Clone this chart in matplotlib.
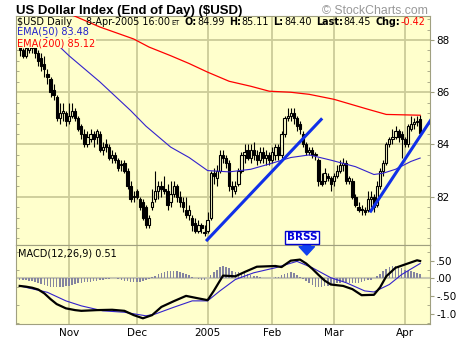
import numpy as np
import pandas as pd
import matplotlib
matplotlib.use("Agg")
import matplotlib.pyplot as plt
from matplotlib.ticker import FixedLocator

# trading days shown on the chart
dates = pd.bdate_range("2004-10-08", "2005-04-08")

opens = [87.8, 87.6, 87.4, 87.6, 87.9, 87.8, 87.5, 87.3, 87.1, 86.7,
         86.5, 86.1, 85.8, 85.0, 85.2, 85.2, 84.9, 85.1, 85.3, 85.0,
         84.7, 84.4, 84.0, 84.2, 84.4, 84.3, 84.4, 83.8, 84.0, 83.9,
         83.5, 83.6, 83.4, 83.2, 83.3, 83.0, 82.4, 82.0, 82.2, 81.9,
         81.8, 81.6, 80.9, 81.6, 81.9, 82.2, 82.4, 82.3, 82.2, 81.8,
         82.1, 82.4, 82.0, 81.8, 81.5, 81.3, 81.2, 81.0, 80.7, 80.9,
         80.6, 80.7, 81.2, 82.9, 82.7, 83.0, 83.6, 83.5, 83.3, 82.4,
         82.2, 82.5, 83.0, 83.6, 83.8, 83.5, 83.8, 83.6, 83.4, 83.7,
         83.5, 83.6, 83.4, 83.6, 83.9, 83.6, 84.4, 85.0, 85.1, 85.2,
         85.0, 84.8, 84.4, 84.0, 83.7, 83.8, 83.6, 83.4, 82.6, 82.6,
         82.8, 82.7, 82.6, 82.8, 83.0, 83.2, 83.3, 82.6, 82.6, 82.0,
         81.6, 81.5, 81.5, 81.5, 81.9, 82.0, 81.7, 82.4, 83.0, 83.3,
         84.0, 84.2, 84.3, 84.5, 84.4, 84.2, 84.0, 84.6, 84.8, 84.9,
         84.99]
highs = [87.9, 87.7, 87.9, 88.0, 88.0, 87.9, 87.6, 87.5, 87.4, 86.9,
         86.6, 86.3, 85.9, 85.6, 85.6, 85.3, 85.6, 85.6, 85.4, 85.1,
         84.8, 84.6, 84.5, 84.6, 84.5, 84.6, 84.5, 84.1, 84.2, 84.0,
         83.8, 83.7, 83.5, 83.4, 83.4, 83.1, 82.6, 82.2, 82.3, 82.0,
         81.9, 81.7, 81.3, 82.3, 83.0, 82.6, 82.6, 82.8, 82.5, 82.6,
         82.6, 82.5, 82.2, 82.0, 82.0, 81.7, 81.3, 81.2, 81.1, 81.0,
         80.9, 81.4, 83.0, 83.1, 83.2, 83.8, 83.8, 83.6, 83.4, 82.6,
         82.6, 83.1, 83.7, 84.0, 84.0, 84.0, 84.1, 83.8, 83.9, 83.9,
         83.8, 83.7, 83.9, 84.0, 84.0, 84.5, 85.1, 85.4, 85.4, 85.4,
         85.1, 84.9, 84.5, 84.1, 83.9, 83.9, 83.7, 83.5, 82.9, 83.1,
         82.9, 82.8, 82.9, 83.2, 83.4, 83.5, 83.4, 82.8, 82.7, 82.1,
         81.8, 81.7, 81.6, 82.2, 82.2, 82.1, 82.6, 83.1, 83.4, 84.1,
         84.3, 84.6, 84.7, 84.6, 84.5, 84.3, 84.8, 85.1, 85.0, 85.1,
         85.11]
lows = [87.4, 87.3, 87.3, 87.5, 87.5, 87.3, 87.0, 86.8, 86.6, 86.3,
        85.8, 85.7, 84.9, 84.8, 84.9, 84.7, 84.8, 85.0, 84.9, 84.5,
        84.2, 83.9, 83.9, 84.1, 83.9, 84.0, 83.7, 83.6, 83.7, 83.4,
        83.3, 83.3, 83.0, 83.0, 82.9, 82.3, 81.8, 81.8, 81.9, 81.5,
        81.1, 80.8, 80.8, 81.5, 81.8, 81.9, 82.0, 82.1, 81.5, 81.6,
        82.0, 81.8, 81.6, 81.4, 81.2, 81.1, 80.7, 80.6, 80.6, 80.6,
        80.5, 80.6, 81.1, 82.5, 82.4, 82.9, 83.3, 83.1, 82.2, 82.0,
        82.1, 82.4, 82.9, 83.3, 83.4, 83.3, 83.4, 83.2, 83.3, 83.3,
        83.2, 83.2, 83.3, 83.4, 83.4, 83.5, 84.3, 84.9, 84.9, 84.8,
        84.5, 84.4, 83.9, 83.6, 83.6, 83.5, 83.4, 82.4, 82.4, 82.5,
        82.6, 82.2, 82.4, 82.7, 82.9, 83.0, 82.5, 82.5, 81.9, 81.6,
        81.4, 81.3, 81.3, 81.4, 81.6, 81.4, 81.6, 82.3, 82.8, 83.2,
        83.9, 84.0, 84.2, 84.1, 83.5, 83.9, 83.9, 84.5, 84.6, 84.7,
        84.40]
closes = [87.6, 87.4, 87.7, 87.8, 87.7, 87.5, 87.2, 87.0, 86.9, 86.6,
          86.0, 85.9, 85.0, 85.2, 85.3, 84.9, 85.1, 85.3, 85.0, 84.6,
          84.4, 84.0, 84.3, 84.4, 84.2, 84.5, 83.8, 83.9, 83.9, 83.5,
          83.6, 83.4, 83.1, 83.2, 83.0, 82.4, 81.9, 82.0, 82.0, 81.6,
          81.2, 80.9, 81.2, 81.8, 82.2, 82.4, 82.3, 82.2, 81.7, 82.1,
          82.4, 82.0, 81.8, 81.6, 81.3, 81.5, 80.9, 80.7, 80.9, 80.8,
          80.6, 81.1, 82.9, 82.8, 83.0, 83.6, 83.5, 83.3, 82.4, 82.3,
          82.4, 83.0, 83.6, 83.7, 83.5, 83.8, 83.6, 83.4, 83.7, 83.5,
          83.6, 83.4, 83.7, 83.9, 83.6, 84.4, 85.0, 85.1, 85.2, 85.0,
          84.7, 84.6, 84.0, 83.7, 83.8, 83.6, 83.6, 82.6, 82.5, 82.9,
          82.7, 82.5, 82.8, 83.0, 83.2, 83.3, 82.6, 82.7, 82.0, 81.7,
          81.5, 81.5, 81.4, 81.9, 82.0, 81.6, 82.4, 83.0, 83.3, 84.0,
          84.2, 84.3, 84.5, 84.3, 84.2, 84.0, 84.7, 84.8, 84.85, 84.87,
          84.45]

# moving averages (bar index, value)
ema50_idx = [0, 6, 12, 16, 26, 36, 41, 45, 49, 55, 61, 68, 75, 81, 88, 94,
             101, 109, 115, 118, 122, 127, 130]
ema50_val = [88.6, 88.3, 87.85, 87.4, 86.4, 85.3, 84.7, 84.3, 83.9, 83.5, 83.0,
             82.95, 83.05, 83.25, 83.5, 83.6, 83.4, 83.15, 82.85, 82.9, 83.05,
             83.35, 83.48]
ema200_idx = [0, 17, 26, 37, 42, 49, 55, 61, 68, 75, 81, 88, 94, 102, 113, 119, 130]
ema200_val = [89.8, 88.96, 88.5, 88.04, 87.73, 87.4, 87.1, 86.77, 86.42, 86.23,
              86.04, 86.0, 85.92, 85.73, 85.35, 85.15, 85.12]

# hand drawn trend lines
trend1_x = [60.5, 98.2]
trend1_y = [80.3, 85.0]
trend2_x = [113.7, 133.8]
trend2_y = [81.4, 85.0]

# MACD(12,26,9)
macd_idx = [0, 2, 4, 6, 8, 10, 12, 15, 18, 20, 25, 30, 34, 37, 40, 43, 46, 50,
            54, 58, 61, 63, 66, 70, 73, 77, 83, 85, 88, 91, 93, 95, 97, 99, 101,
            105, 108, 111, 115, 117, 119, 122, 126, 129, 130]
macd_val = [-0.21, -0.23, -0.26, -0.31, -0.42, -0.58, -0.72, -0.84, -0.89, -0.91,
            -0.89, -0.88, -0.91, -1.03, -1.12, -1.03, -0.80, -0.64, -0.49, -0.56,
            -0.61, -0.35, 0.08, 0.06, 0.18, 0.33, 0.35, 0.32, 0.50, 0.53, 0.42,
            0.27, 0.10, -0.06, -0.17, -0.21, -0.30, -0.47, -0.46, -0.25, 0.06,
            0.30, 0.42, 0.51, 0.49]
signal_idx = [0, 9, 15, 20, 27, 34, 41, 44, 50, 56, 61, 65, 70, 76, 83, 90, 95,
              101, 106, 112, 115, 120, 124, 130]
signal_val = [-0.21, -0.39, -0.63, -0.77, -0.91, -0.95, -1.05, -1.0, -0.81, -0.63,
              -0.63, -0.35, -0.03, 0.16, 0.30, 0.48, 0.30, 0.02, -0.12, -0.35,
              -0.38, -0.17, 0.11, 0.42]
hist_val = [-0.03, -0.04, -0.05, -0.06, -0.08, -0.10, -0.13, -0.16, -0.19, -0.22,
            -0.24, -0.25, -0.25, -0.24, -0.23, -0.22, -0.20, -0.18, -0.16, -0.14,
            -0.12, -0.11, -0.10, -0.09, -0.08, -0.06, -0.05, -0.03, -0.02, -0.01,
            0.00, 0.00, -0.01, -0.03, -0.06, -0.08, -0.10, -0.10, -0.10, -0.09,
            -0.07, -0.04, -0.01, 0.03, 0.08, 0.12, 0.16, 0.18, 0.20, 0.21,
            0.21, 0.20, 0.18, 0.15, 0.12, 0.09, 0.05, 0.02, -0.02, -0.03,
            -0.03, 0.00, 0.10, 0.18, 0.25, 0.32, 0.35, 0.33, 0.28, 0.22,
            0.18, 0.17, 0.16, 0.14, 0.12, 0.10, 0.08, 0.06, 0.04, 0.02,
            0.01, 0.01, 0.02, 0.03, 0.05, 0.09, 0.13, 0.16, 0.17, 0.15,
            0.10, 0.04, -0.02, -0.08, -0.14, -0.19, -0.23, -0.25, -0.24, -0.22,
            -0.20, -0.18, -0.16, -0.14, -0.12, -0.10, -0.10, -0.12, -0.13, -0.13,
            -0.12, -0.10, -0.08, -0.05, -0.03, 0.00, 0.06, 0.13, 0.20, 0.27,
            0.32, 0.34, 0.34, 0.32, 0.28, 0.25, 0.22, 0.20, 0.18, 0.15,
            0.12]

month_labels = ["Nov", "Dec", "2005", "Feb", "Mar", "Apr"]
price_ticks = [82, 84, 86, 88]
macd_ticks = [0.5, 0.0, -0.5, -1.0]
macd_tick_labels = [".50", ".00", "-.50", "-1.0"]

W, H = 460, 340
BG = "#FFFFCC"
GRID = "#CCCC99"
EDGE = "#A0A080"

def fx(px):
    return px / W

def fy(py):
    return 1 - py / H

fig = plt.figure(figsize=(4.6, 3.4), dpi=100)
ax = fig.add_axes([fx(16), 95 / H, 414 / W, 229 / H])
axm = fig.add_axes([fx(16), 16 / H, 414 / W, 79 / H], sharex=ax)

x = np.arange(len(closes))
o = np.array(opens)
h = np.array(highs)
l = np.array(lows)
c = np.array(closes)

# month boundaries from the trading calendar
first_of_month = [i for i in range(1, len(dates)) if dates[i].month != dates[i - 1].month]

for a in (ax, axm):
    a.set_facecolor(BG)
    a.set_axisbelow(True)
    for s in a.spines.values():
        s.set_color(EDGE)
    a.set_xlim(-1.2, 133.2)
    a.xaxis.set_major_locator(FixedLocator(first_of_month))
    a.grid(True, axis="x", color=GRID, lw=1.3)

# candlesticks
up = c >= o
body_lo = np.minimum(o, c)
body_h = np.maximum(np.abs(c - o), 0.04)
ax.vlines(x, l, h, color="black", lw=0.8, zorder=3)
ax.bar(x[up], body_h[up], bottom=body_lo[up], width=0.75, facecolor=BG,
       edgecolor="black", lw=0.8, zorder=4)
ax.bar(x[~up], body_h[~up], bottom=body_lo[~up], width=0.75, facecolor="black",
       edgecolor="black", lw=0.8, zorder=4)

ax.plot(ema200_idx, ema200_val, color="#FF0000", lw=0.9, zorder=5)
ax.plot(ema50_idx, ema50_val, color="#3322CC", lw=0.8, zorder=5)
ax.plot(trend1_x, trend1_y, color="#1030E8", lw=2.2, zorder=6, solid_capstyle="butt")
ax.plot(trend2_x, trend2_y, color="#1030E8", lw=2.2, zorder=6, solid_capstyle="butt")

ax.set_ylim(80.15, 88.92)
ax.grid(True, axis="y", color=GRID, lw=1.3)
ax.yaxis.set_major_locator(FixedLocator(price_ticks))
ax.yaxis.set_minor_locator(FixedLocator(np.arange(80.4, 88.9, 0.4)))
ax.yaxis.tick_right()
ax.tick_params(axis="y", which="major", direction="out", length=3, color=EDGE,
               labelsize=7.5, pad=1.5, right=True, left=False)
ax.tick_params(axis="y", which="minor", direction="in", length=2.5, color=EDGE,
               left=True, right=True)
ax.tick_params(axis="x", length=0, labelbottom=False)

# MACD panel
axm.axhline(0, color="#C8C8B0", lw=1.5, zorder=1)
axm.bar(x, hist_val, width=0.5, color="#8484A0", zorder=2)
axm.plot(signal_idx, signal_val, color="#3322CC", lw=0.8, zorder=3)
axm.plot(macd_idx, macd_val, color="black", lw=1.6, zorder=4)
axm.set_ylim(-1.28, 0.94)
axm.yaxis.set_major_locator(FixedLocator(macd_ticks))
axm.yaxis.set_major_formatter(plt.FixedFormatter(macd_tick_labels))
axm.yaxis.set_minor_locator(FixedLocator(np.arange(-1.25, 0.94, 0.25)))
axm.yaxis.tick_right()
axm.tick_params(axis="y", which="major", direction="out", length=3, color=EDGE,
                labelsize=7.5, pad=1.5, right=True, left=False)
axm.tick_params(axis="y", which="minor", direction="in", length=2.5, color=EDGE,
                left=True, right=True)
axm.set_xticklabels(month_labels)
axm.tick_params(axis="x", length=0, labelsize=7.5, pad=3)

# BRSS marker
axm.annotate("", xy=(93.2, 0.58), xytext=(93.2, 1.0), annotation_clip=False,
             arrowprops=dict(arrowstyle="simple,head_length=0.6,head_width=1.1,tail_width=0.55",
                             fc="#1040F0", ec="#1040F0", mutation_scale=10))
fig.text(fx(302), fy(237.5), "BRSS", fontsize=7.5, fontweight="bold", color="#0000DD",
         ha="center", va="center", zorder=10,
         bbox=dict(boxstyle="square,pad=0.15", fc="white", ec="#0000CC", lw=1))

# titles and labels
fig.text(fx(16), fy(14), "US Dollar Index (End of Day) ($USD)", family="Liberation Sans",
         fontweight="bold", fontsize=9.5, va="baseline")
fig.text(fx(428), fy(14), "\u00a9 StockCharts.com", family="Liberation Sans",
         fontsize=8.8, color="#999999", ha="right", va="baseline")

hdr_y = fy(25)
fig.text(fx(17), hdr_y, "$USD Daily", fontsize=7, va="baseline", zorder=10,
         bbox=dict(boxstyle="square,pad=0.05", fc=BG, ec="none"))

# quote line: pieces placed one after the other
renderer = fig.canvas.get_renderer()
parts = [("8-Apr-2005 16:00", 6.9, "normal", "black", 1),
         ("ET", 4.8, "normal", "black", 5),
         ("O:", 6.9, "bold", "black", 0.5), ("84.99", 6.9, "normal", "black", 4.5),
         ("H:", 6.9, "bold", "black", 0.5), ("85.11", 6.9, "normal", "black", 4.5),
         ("L:", 6.9, "bold", "black", 0.5), ("84.40", 6.9, "normal", "black", 4.5),
         ("Last:", 6.9, "bold", "black", 0.5), ("84.45", 6.9, "normal", "black", 4.5),
         ("Chg:", 6.9, "bold", "black", 0.5), ("-0.42", 6.9, "normal", "#FF0000", 0)]
xpos = 86
for s, size, wt, col, gap in parts:
    t = fig.text(fx(xpos), hdr_y, s, fontsize=size, fontweight=wt, color=col, va="baseline")
    xpos += t.get_window_extent(renderer).width + gap

fig.text(fx(17), fy(35), "EMA(50) 83.48", fontsize=7, color="#2222CC", va="baseline",
         zorder=10, bbox=dict(boxstyle="square,pad=0.05", fc=BG, ec="none"))
fig.text(fx(17), fy(46), "EMA(200) 85.12", fontsize=7, color="#FF0000", va="baseline",
         zorder=10, bbox=dict(boxstyle="square,pad=0.05", fc=BG, ec="none"))
fig.text(fx(18), fy(256), "MACD(12,26,9) 0.51", fontsize=7, va="baseline", zorder=10)

fig.savefig("out.png", dpi=100)
